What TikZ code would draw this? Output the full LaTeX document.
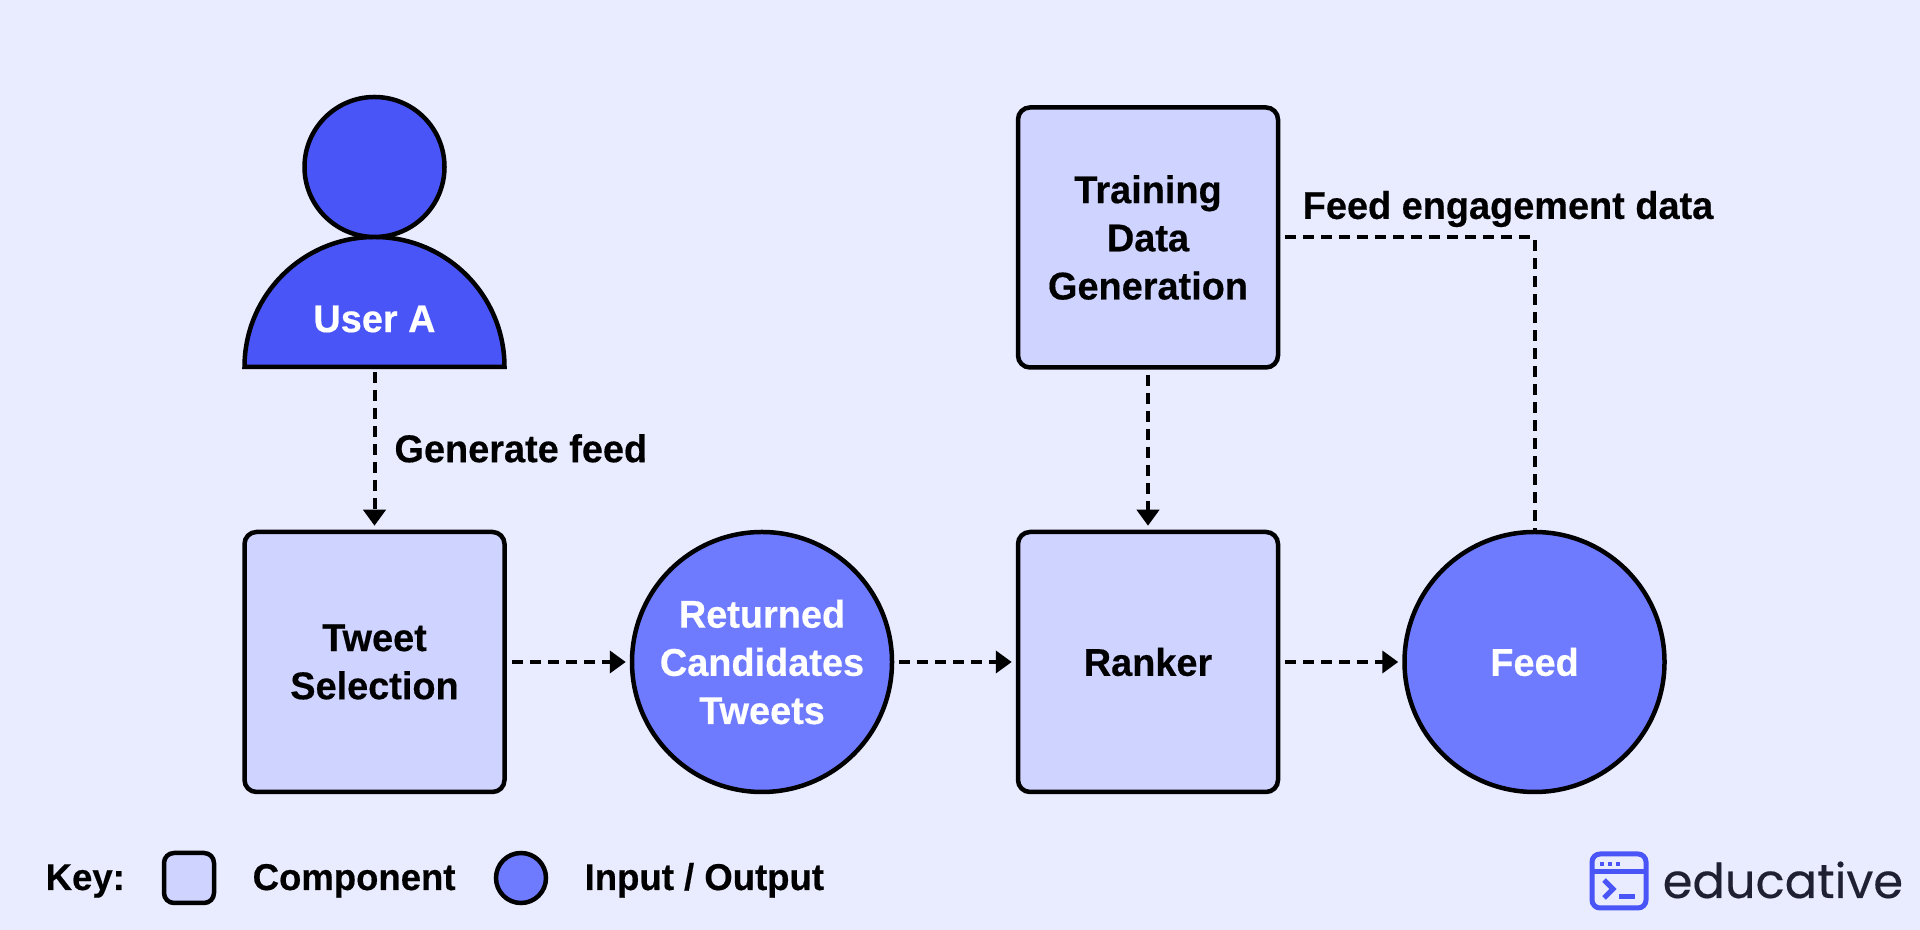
\documentclass[tikz,border=0pt]{standalone}
\usepackage{fontspec}
\setmainfont[BoldFeatures={FakeStretch=0.98,FakeBold=0.4}]{Liberation Sans}
\newfontfamily\logofont[FakeBold=0.3]{Poppins}
\usetikzlibrary{arrows.meta}

\definecolor{pagebg}{HTML}{E9EBFF}
\definecolor{compfill}{HTML}{CFD3FF}
\definecolor{iofill}{HTML}{6F7BFF}
\definecolor{userfill}{HTML}{4A55F7}
\definecolor{logotext}{HTML}{1F2133}

\tikzset{
	lbl/.style={font=\fontsize{11}{13.7}\selectfont\bfseries,align=center,inner sep=0pt},
	keylbl/.style={font=\fontsize{10.6}{13}\selectfont\bfseries,inner sep=0pt,anchor=base west},
	comp/.style={lbl,draw,line width=0.045cm,fill=compfill,rounded corners=0.12cm,minimum size=2.6cm},
	io/.style={lbl,draw,circle,line width=0.045cm,fill=iofill,text=white,minimum size=2.6cm},
	flow/.style={line width=0.04cm,dash pattern=on 0.11cm off 0.07cm,shorten <=0.05cm,shorten >=0.04cm,-{Triangle[width=0.22cm,length=0.16cm]}},
	feedback/.style={line width=0.04cm,dash pattern=on 0.11cm off 0.07cm,shorten <=0.05cm},
}

\begin{document}
\begin{tikzpicture}
	\useasboundingbox (0,0) rectangle (19.2,9.3);
	\fill[pagebg] (0,0) rectangle (19.2,9.3);
	% user
	\draw[line width=0.045cm,fill=userfill] (2.445,5.63) arc (180:0:1.3) -- cycle;
	\node[draw,circle,line width=0.045cm,fill=userfill,minimum size=1.4cm] (head) at (3.745,7.63) {};
	\node[lbl,text=white] (usera) at (3.745,6.11) {User A};
	\coordinate (userbase) at (3.745,5.63);
	% main row
	\node[comp] (tweet) at (3.745,2.68) {Tweet\\Selection};
	\node[io] (returned) at (7.62,2.68) {Returned\\Candidates\\Tweets};
	\node[comp] (ranker) at (11.48,2.68) {Ranker};
	\node[io] (feed) at (15.345,2.68) {Feed};
	\node[comp] (training) at (11.48,6.925) {Training\\Data\\Generation};
	% connectors
	\draw[flow] (userbase) -- (tweet) node[midway,right,xshift=0.18cm,lbl]{Generate feed};
	\draw[flow] (tweet) -- (returned);
	\draw[flow] (returned) -- (ranker);
	\draw[flow] (ranker) -- (feed);
	\draw[flow] (training) -- (ranker);
	\draw[feedback] (training.east) -| (feed.north);
	\node[lbl] (engagement) at (15.08,7.21) {Feed engagement data};
	% key
	\node[keylbl] (keylabel) at (0.45,0.40) {Key:};
	\node[comp,minimum size=0.5cm,rounded corners=0.1cm] (keycomp) at (1.89,0.52) {};
	\node[keylbl] (complabel) at (2.52,0.40) {Component};
	\node[io,minimum size=0.5cm] (keyio) at (5.21,0.52) {};
	\node[keylbl] (iolabel) at (5.84,0.40) {Input / Output};
	% logo
	\draw[userfill,line width=0.05cm,rounded corners=0.08cm] (15.92,0.22) rectangle (16.46,0.76);
	\draw[userfill,line width=0.05cm] (15.92,0.58) -- (16.46,0.58);
	\foreach \dotx in {16.02,16.10,16.18}
		\fill[userfill] (\dotx-0.02,0.64) rectangle (\dotx+0.02,0.68);
	\draw[userfill,line width=0.05cm] (16.04,0.50) -- (16.13,0.41) -- (16.04,0.32);
	\draw[userfill,line width=0.05cm] (16.19,0.33) -- (16.35,0.33);
	\node[anchor=base west,inner sep=0pt,text=logotext] (logoname) at (16.62,0.32) {\fontsize{13.65}{16}\logofont educative};
\end{tikzpicture}
\end{document}
